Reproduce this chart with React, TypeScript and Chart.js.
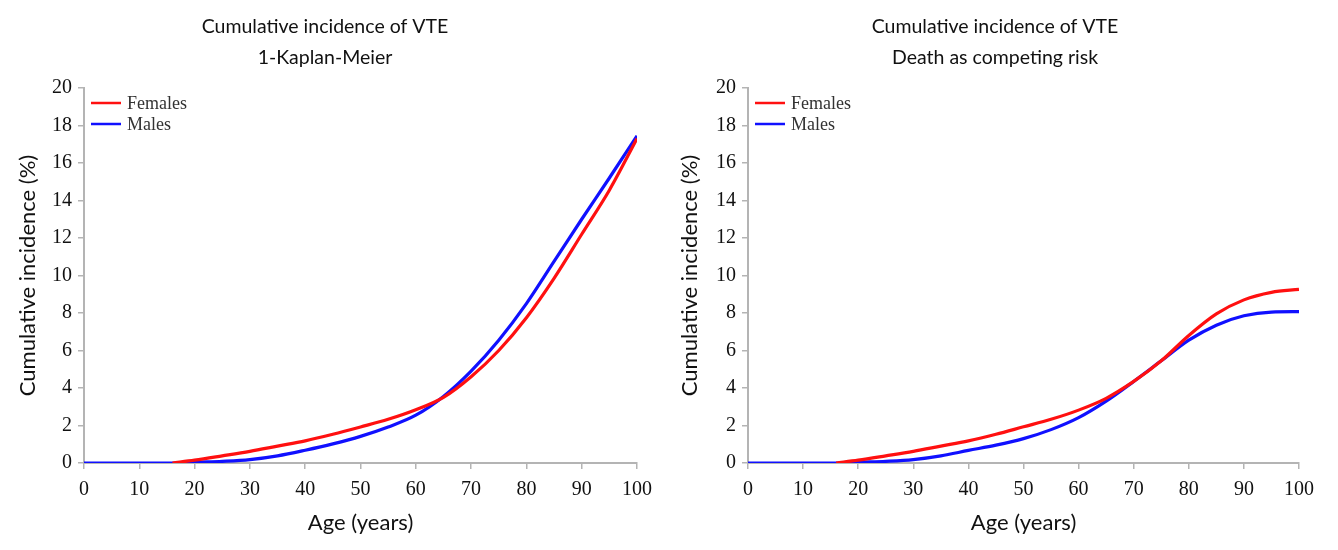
import React, { useEffect, useRef } from "react";
import { Chart, registerables } from "chart.js";

Chart.register(...registerables);

// ---- Data ----
const X_TICKS = [0, 10, 20, 30, 40, 50, 60, 70, 80, 90, 100];
const Y_TICKS = [0, 2, 4, 6, 8, 10, 12, 14, 16, 18, 20];

// Left panel: 1-Kaplan-Meier
const KM_AGES_F = [16, 20, 25, 30, 35, 40, 45, 50, 55, 60, 65, 70, 75, 80, 85, 90, 95, 100];
const KM_FEMALES = [0, 0.15, 0.38, 0.62, 0.9, 1.18, 1.53, 1.92, 2.33, 2.84, 3.5, 4.6, 6.0, 7.75, 9.85, 12.2, 14.55, 17.3];
const KM_AGES_M = [0, 10, 17, 20, 25, 30, 35, 40, 45, 50, 55, 60, 65, 70, 75, 80, 85, 90, 95, 100];
const KM_MALES = [0, 0, 0, 0.04, 0.09, 0.18, 0.38, 0.68, 1.02, 1.42, 1.92, 2.55, 3.55, 4.9, 6.55, 8.5, 10.75, 13.0, 15.2, 17.45];

// Right panel: death as competing risk
const CR_AGES_F = [16, 20, 25, 30, 35, 40, 45, 50, 55, 60, 65, 70, 75, 80, 85, 90, 95, 100];
const CR_FEMALES = [0, 0.15, 0.38, 0.62, 0.9, 1.18, 1.53, 1.93, 2.33, 2.82, 3.45, 4.35, 5.45, 6.8, 7.95, 8.7, 9.1, 9.26];
const CR_AGES_M = [0, 10, 17, 20, 25, 30, 35, 40, 45, 50, 55, 60, 65, 70, 75, 80, 85, 90, 95, 100];
const CR_MALES = [0, 0, 0, 0.04, 0.09, 0.18, 0.38, 0.67, 0.95, 1.3, 1.78, 2.42, 3.3, 4.35, 5.45, 6.55, 7.35, 7.85, 8.05, 8.07];

const SERIES_LABELS = ["Females", "Males"];
const TITLE_LEFT = ["Cumulative incidence of VTE", "1-Kaplan-Meier"];
const TITLE_RIGHT = ["Cumulative incidence of VTE", "Death as competing risk"];
const X_TITLE = "Age (years)";
const Y_TITLE = "Cumulative incidence (%)";

const RED = "#ff1010";
const BLUE = "#1010ff";
const AXIS_GREY = "#b4b4b4";

const insideLegend = {
  id: "insideLegend",
  afterDatasetsDraw(chart: any) {
    const { ctx, chartArea } = chart;
    ctx.save();
    chart.data.datasets.forEach((ds: any, i: number) => {
      const y = chartArea.top + 15 + i * 21;
      const x0 = chartArea.left + 7;
      ctx.strokeStyle = ds.borderColor;
      ctx.lineWidth = 2.5;
      ctx.beginPath();
      ctx.moveTo(x0, y);
      ctx.lineTo(x0 + 30, y);
      ctx.stroke();
      ctx.fillStyle = "#333";
      ctx.font = "18px 'Liberation Serif'";
      ctx.textBaseline = "middle";
      ctx.textAlign = "left";
      ctx.fillText(ds.label, x0 + 36, y + 1);
    });
    ctx.restore();
  },
};

const centerTitle = {
  id: "centerTitle",
  afterDraw(chart: any, _args: any, opts: any) {
    const { ctx } = chart;
    ctx.save();
    ctx.fillStyle = "#111";
    ctx.font = "19.5px Lato";
    ctx.textAlign = "center";
    ctx.textBaseline = "middle";
    (opts.lines || []).forEach((line: string, i: number) => {
      ctx.fillText(line, opts.cx, 27 + i * 31);
    });
    ctx.restore();
  },
};

type PanelProps = {
  left: number;
  width: number;
  title: string[];
  titleCx: number;
  agesF: number[];
  females: number[];
  agesM: number[];
  males: number[];
  yWidth: number;
  padRight: number;
  yTitlePad: number;
};

function Panel(p: PanelProps) {
  const ref = useRef<HTMLCanvasElement | null>(null);
  useEffect(() => {
    if (!ref.current) return;
    const chart = new Chart(ref.current, {
      type: "line",
      data: {
        datasets: [
          {
            label: SERIES_LABELS[0],
            data: p.agesF.map((a, i) => ({ x: a, y: p.females[i] })),
            borderColor: RED,
            backgroundColor: RED,
            borderWidth: 3.2,
            pointRadius: 0,
            cubicInterpolationMode: "monotone",
          },
          {
            label: SERIES_LABELS[1],
            data: p.agesM.map((a, i) => ({ x: a, y: p.males[i] })),
            borderColor: BLUE,
            backgroundColor: BLUE,
            borderWidth: 3.2,
            pointRadius: 0,
            cubicInterpolationMode: "monotone",
          },
        ],
      },
      options: {
        animation: false,
        responsive: false,
        layout: { padding: { left: 0, right: p.padRight, top: 88, bottom: 0 } },
        plugins: {
          legend: { display: false },
          tooltip: { enabled: false },
          title: { display: false },
          centerTitle: { lines: p.title, cx: p.titleCx - p.left },
        },
        scales: {
          x: {
            type: "linear",
            min: 0,
            max: 100,
            afterBuildTicks: (s: any) => {
              s.ticks = X_TICKS.map((v) => ({ value: v }));
            },
            afterFit: (s: any) => {
              s.height = 87;
            },
            ticks: {
              color: "#111",
              font: { family: "Liberation Serif", size: 20 },
              padding: 9,
              maxRotation: 0,
              autoSkip: false,
            },
            grid: { drawOnChartArea: false, drawTicks: true, tickLength: 6, color: AXIS_GREY, lineWidth: 1.5 },
            border: { display: true, color: AXIS_GREY, width: 2 },
            title: {
              display: true,
              text: X_TITLE,
              color: "#111",
              font: { family: "Lato", size: 22 },
              padding: 14,
            },
          },
          y: {
            type: "linear",
            min: 0,
            max: 20,
            afterBuildTicks: (s: any) => {
              s.ticks = Y_TICKS.map((v) => ({ value: v }));
            },
            afterFit: (s: any) => {
              s.width = p.yWidth;
            },
            ticks: {
              color: "#111",
              font: { family: "Liberation Serif", size: 20 },
              padding: 6,
              autoSkip: false,
            },
            grid: { drawOnChartArea: false, drawTicks: true, tickLength: 6, color: AXIS_GREY, lineWidth: 1.5 },
            border: { display: true, color: AXIS_GREY, width: 2 },
            title: {
              display: true,
              text: Y_TITLE,
              color: "#111",
              font: { family: "Lato", size: 22 },
              padding: p.yTitlePad,
            },
          },
        },
      },
      plugins: [insideLegend, centerTitle],
    } as any);
    return () => chart.destroy();
  }, []);
  return (
    <canvas
      ref={ref}
      width={p.width}
      height={550}
      style={{ position: "absolute", left: p.left, top: 0, width: p.width, height: 550 }}
    />
  );
}

export default function App() {
  return (
    <div style={{ position: "fixed", left: 0, top: 0, width: 1338, height: 550, background: "#fff", overflow: "hidden" }}>
      <Panel
        left={0}
        width={670}
        title={TITLE_LEFT}
        titleCx={325}
        agesF={KM_AGES_F}
        females={KM_FEMALES}
        agesM={KM_AGES_M}
        males={KM_MALES}
        yWidth={84}
        padRight={33}
        yTitlePad={15}
      />
      <Panel
        left={664}
        width={674}
        title={TITLE_RIGHT}
        titleCx={995}
        agesF={CR_AGES_F}
        females={CR_FEMALES}
        agesM={CR_AGES_M}
        males={CR_MALES}
        yWidth={84}
        padRight={39}
        yTitlePad={13}
      />
    </div>
  );
}
